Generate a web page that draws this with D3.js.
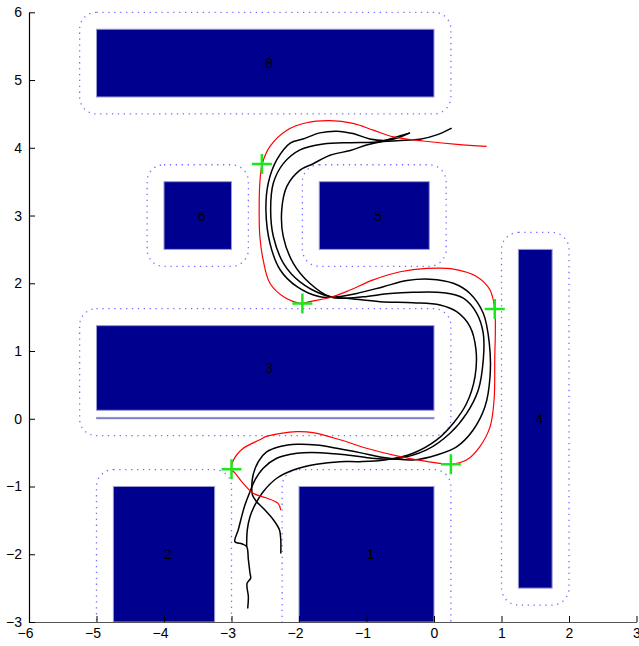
<!DOCTYPE html>
<html>
<head>
<meta charset="utf-8">
<script src="https://cdn.jsdelivr.net/npm/d3@7"></script>
<style>
  body { margin: 0; background: #fff; overflow: hidden; }
  svg { display: block; }
  text { font-family: 'Liberation Sans', Arial, Helvetica, sans-serif; }
</style>
</head>
<body>
<div id="chart"></div>
<script>
// Data (world coordinates)
const xTicks = [-6, -5, -4, -3, -2, -1, 0, 1, 2, 3];
const yTicks = [-3, -2, -1, 0, 1, 2, 3, 4, 5, 6];

// obstacles: label, x0, x1, y0, y1
const obstacles = [
    {label: '1', x0: -2, x1: 0, y0: -3, y1: -1},
    {label: '2', x0: -4.75, x1: -3.25, y0: -3, y1: -1},
    {label: '3', x0: -5, x1: 0, y0: 0.125, y1: 1.375},
    {label: '4', x0: 1.25, x1: 1.75, y0: -2.5, y1: 2.5},
    {label: '5', x0: -1.7, x1: -0.07, y0: 2.5, y1: 3.5},
    {label: '6', x0: -4, x1: -3, y0: 2.5, y1: 3.5},
    {label: '8', x0: -5, x1: 0, y0: 4.75, y1: 5.75}
];
// thin strip under obstacle 3
const strip = {x0: -5, x1: 0, y0: 0, y1: 0.02};
const safetyMargin = 0.25;

// planned path (red)
const plannedPath = [
    [-2.27, -1.35], [-2.31, -1.25], [-2.48, -1.17], [-2.68, -1.10], [-2.83, -0.95],
    [-2.95, -0.80], [-3.00, -0.745], [-2.97, -0.61], [-2.83, -0.44], [-2.58, -0.31],
    [-2.48, -0.26], [-2.03, -0.19], [-1.79, -0.205], [-1.39, -0.31], [-1.00, -0.435],
    [-0.50, -0.56], [-0.11, -0.63], [0.25, -0.67], [0.48, -0.61], [0.68, -0.41],
    [0.83, -0.12], [0.89, 0.28], [0.90, 0.87], [0.90, 1.61], [0.83, 1.90],
    [0.63, 2.10], [0.29, 2.21], [-0.11, 2.22], [-0.50, 2.17], [-0.90, 2.05],
    [-1.29, 1.88], [-1.54, 1.79], [-1.84, 1.73], [-1.95, 1.705], [-2.21, 1.79],
    [-2.43, 2.00], [-2.53, 2.34], [-2.58, 2.69], [-2.59, 3.08], [-2.58, 3.48],
    [-2.545, 3.76], [-2.43, 4.02], [-2.18, 4.26], [-1.89, 4.37], [-1.54, 4.40],
    [-1.20, 4.36], [-0.90, 4.26], [-0.60, 4.16], [-0.16, 4.10], [0.34, 4.05],
    [0.78, 4.02]
];

// waypoints (green crosses)
const waypoints = [[-3.0, -0.745], [0.25, -0.67], [0.9, 1.62], [-1.95, 1.70], [-2.55, 3.76]];

// executed trajectories (black)
const trajectoryA = [
    [-2.27, -1.99], [-2.27, -1.79], [-2.29, -1.64], [-2.38, -1.49], [-2.53, -1.32],
    [-2.63, -1.22], [-2.69, -1.125], [-2.70, -1.00], [-2.68, -0.83], [-2.60, -0.63],
    [-2.48, -0.49], [-2.28, -0.41], [-2.03, -0.376], [-1.74, -0.387], [-1.44, -0.435],
    [-1.10, -0.50], [-0.80, -0.564], [-0.58, -0.593], [-0.31, -0.608], [0.04, -0.534],
    [0.34, -0.41], [0.58, -0.165], [0.756, 0.18], [0.83, 0.62], [0.82, 1.11],
    [0.73, 1.557], [0.533, 1.85], [0.286, 2.00], [-0.06, 2.06], [-0.40, 2.04],
    [-0.75, 1.95], [-1.145, 1.85], [-1.44, 1.80], [-1.69, 1.80], [-2.03, 1.95],
    [-2.28, 2.20], [-2.43, 2.59], [-2.49, 3.08], [-2.455, 3.48], [-2.33, 3.82],
    [-2.13, 4.07], [-1.94, 4.13], [-1.69, 4.22], [-1.44, 4.245], [-1.20, 4.21],
    [-0.95, 4.13], [-0.70, 4.11], [-0.50, 4.16], [-0.356, 4.22]
];
const trajectoryB = [
    [-2.76, -2.80], [-2.75, -2.63], [-2.77, -2.43], [-2.716, -2.354], [-2.726, -2.28],
    [-2.75, -2.08], [-2.775, -1.888], [-2.84, -1.848], [-2.95, -1.814], [-2.90, -1.64],
    [-2.85, -1.445], [-2.80, -1.27], [-2.726, -1.076], [-2.65, -0.90], [-2.53, -0.73],
    [-2.33, -0.583], [-2.03, -0.509], [-1.69, -0.50], [-1.29, -0.534], [-0.95, -0.579],
    [-0.58, -0.593], [-0.11, -0.46], [0.237, -0.214], [0.484, 0.08], [0.656, 0.425],
    [0.73, 0.87], [0.73, 1.26], [0.633, 1.557], [0.434, 1.78], [0.138, 1.86],
    [-0.31, 1.867], [-0.65, 1.85], [-1.05, 1.80], [-1.39, 1.78], [-1.64, 1.83],
    [-1.985, 2.02], [-2.23, 2.295], [-2.38, 2.69], [-2.42, 3.08], [-2.38, 3.48],
    [-2.23, 3.77], [-1.985, 3.97], [-1.64, 4.056], [-1.24, 4.075], [-0.90, 4.081],
    [-0.55, 4.105], [-0.21, 4.125], [0.04, 4.19], [0.262, 4.29]
];
const trajectoryC = [
    [-2.775, -1.888], [-2.766, -1.64], [-2.726, -1.445], [-2.652, -1.272], [-2.53, -1.076],
    [-2.33, -0.878], [-2.084, -0.756], [-1.74, -0.672], [-1.39, -0.633], [-1.10, -0.633],
    [-0.73, -0.608], [-0.31, -0.509], [0.04, -0.313], [0.286, -0.066], [0.484, 0.229],
    [0.607, 0.62], [0.622, 1.016], [0.533, 1.36], [0.336, 1.58], [0.089, 1.68],
    [-0.31, 1.714], [-0.80, 1.729], [-1.29, 1.78], [-1.54, 1.80], [-1.84, 2.00],
    [-2.084, 2.295], [-2.233, 2.69], [-2.256, 3.08], [-2.18, 3.43], [-1.985, 3.67],
    [-1.79, 3.765], [-1.54, 3.89], [-1.24, 3.96], [-1.00, 4.04], [-0.80, 4.086],
    [-0.60, 4.145], [-0.356, 4.22]
];

// Constants
const width = 639;
const height = 646;
const margin = {top: 12.3, right: 2.5, bottom: 24, left: 29};
const innerWidth = width - margin.left - margin.right;
const innerHeight = height - margin.top - margin.bottom;
const obstacleColor = '#00008f';
const obstacleEdge = '#9a9ad0';
const marginColor = '#3d3dff';
const fontSize = '14px';

const xScale = d3.scaleLinear().domain([-6, 3]).range([0, innerWidth]);
const yScale = d3.scaleLinear().domain([-3, 6]).range([innerHeight, 0]);

const svg = d3.select('#chart')
    .append('svg')
        .attr('width', width)
        .attr('height', height);

const g = svg.append('g')
    .attr('transform', `translate(${margin.left},${margin.top})`);

g.append('clipPath')
    .attr('id', 'plotClip')
    .append('rect')
        .attr('x', 0)
        .attr('y', -1)
        .attr('width', innerWidth + 3)
        .attr('height', innerHeight + 1);

const plot = g.append('g').attr('clip-path', 'url(#plotClip)');

// safety margins (dotted rounded outlines)
const rPx = xScale(safetyMargin) - xScale(0);
const marginShapes = obstacles.map(o => ({
    x0: o.x0 - safetyMargin, x1: o.x1 + safetyMargin,
    y0: (o.label === '3' ? strip.y0 : o.y0) - safetyMargin, y1: o.y1 + safetyMargin
}));

plot.selectAll('.safety')
    .data(marginShapes)
    .enter()
    .append('rect')
        .attr('class', 'safety')
        .attr('x', d => xScale(d.x0))
        .attr('y', d => yScale(d.y1))
        .attr('width', d => xScale(d.x1) - xScale(d.x0))
        .attr('height', d => yScale(d.y0) - yScale(d.y1))
        .attr('rx', rPx)
        .attr('ry', rPx)
        .attr('fill', 'none')
        .attr('stroke', marginColor)
        .attr('stroke-opacity', 0.75)
        .attr('stroke-width', 1.3)
        .attr('stroke-dasharray', '1.3,4.6');

// obstacles
plot.selectAll('.obstacle')
    .data(obstacles.concat([strip]))
    .enter()
    .append('rect')
        .attr('class', 'obstacle')
        .attr('x', d => xScale(d.x0))
        .attr('y', d => yScale(d.y1))
        .attr('width', d => xScale(d.x1) - xScale(d.x0))
        .attr('height', d => Math.max(yScale(d.y0) - yScale(d.y1), 1))
        .attr('fill', obstacleColor)
        .attr('stroke', obstacleEdge)
        .attr('stroke-width', 1);

plot.selectAll('.obstacleLabel')
    .data(obstacles)
    .enter()
    .append('text')
        .attr('class', 'obstacleLabel')
        .attr('x', d => xScale((d.x0 + d.x1) / 2))
        .attr('y', d => yScale((d.y0 + d.y1) / 2))
        .attr('dy', '0.36em')
        .style('font-size', fontSize)
        .attr('fill', 'black')
        .text(d => d.label);

// paths
const line = d3.line()
    .x(d => xScale(d[0]))
    .y(d => yScale(d[1]))
    .curve(d3.curveCatmullRom.alpha(0.5));

plot.selectAll('.trajectory')
    .data([trajectoryA, trajectoryB, trajectoryC])
    .enter()
    .append('path')
        .attr('class', 'trajectory')
        .attr('d', line)
        .attr('fill', 'none')
        .attr('stroke', 'black')
        .attr('stroke-width', 1.5);

plot.append('path')
    .attr('d', line(plannedPath))
    .attr('fill', 'none')
    .attr('stroke', '#ff0000')
    .attr('stroke-width', 1.2);

// waypoints
const arm = 10;
plot.selectAll('.waypoint')
    .data(waypoints)
    .enter()
    .append('path')
        .attr('class', 'waypoint')
        .attr('d', d => {
            const cx = xScale(d[0]), cy = yScale(d[1]);
            return `M${cx - arm},${cy}H${cx + arm}M${cx},${cy - arm}V${cy + arm}`;
        })
        .attr('stroke', '#1ee61e')
        .attr('stroke-width', 2.5)
        .attr('fill', 'none');

// axes
const xAxis = g.append('g')
    .attr('transform', `translate(0,${innerHeight})`)
    .call(d3.axisBottom(xScale).tickValues(xTicks).tickSizeInner(-6).tickSizeOuter(0).tickPadding(6));

const yAxis = g.append('g')
    .call(d3.axisLeft(yScale).tickValues(yTicks).tickSizeInner(-6).tickSizeOuter(0).tickPadding(7));

[xAxis, yAxis].forEach(a => {
    a.select('.domain').attr('stroke', 'black').attr('stroke-width', 1.2);
    a.selectAll('.tick line').attr('stroke', 'black');
    a.selectAll('.tick text')
        .style('font-size', fontSize)
        .style('font-family', "'Liberation Sans', Arial, Helvetica, sans-serif")
        .attr('fill', 'black');
});
xAxis.select('.domain').attr('stroke', '#555');
// digits centred on the tick, minus sign hanging to the left
xAxis.selectAll('.tick text')
    .attr('dy', '0.71em')
    .attr('dx', d => d < 0 ? '-0.29em' : 0);
</script>
</body>
</html>
